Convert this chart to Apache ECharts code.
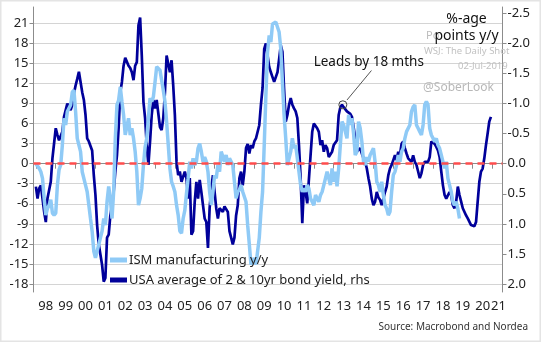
<!DOCTYPE html>
<html><head><meta charset="utf-8">
<script src="https://cdn.jsdelivr.net/npm/echarts@6/dist/echarts.min.js"></script>
<style>html,body{margin:0;padding:0;background:#fff}#c{width:541px;height:342px}</style>
</head><body><div id="c"></div>
<script>
// Monthly data, first point = Jan 1998
const startYear = 1998;
// ISM manufacturing, y/y change (left axis)
const ismValues = [
 0,-0.2,-0.7,-1.2,-2.2,-5.2,-7.7,-6.7,-6.2,-5.4,-7.4,-7.7,
 -7.4,-3.2,-0.9,-0.2,2.8,6.8,5.8,7.8,8.3,8.8,10.7,11,
 7.8,3.8,2.8,1.8,-1.2,-1.2,-3.2,-4.2,-6.2,-8.2,-10.1,-13.1,
 -14.1,-14.1,-12.1,-11.1,-10.1,-8.2,-9.2,-5.7,-3.4,-5.2,-8.2,-4.2,
 3.8,8.8,9.5,11.5,9.3,7.3,4.3,4.3,6.8,4.3,5.3,3.8,
 1.8,-1.2,-6.2,-5.2,-3.7,-0.2,2.5,3.8,6.8,9.8,9.3,10,
 12.2,14.5,14.7,14,12.5,11,9.3,6.3,2.8,-0.7,-2.7,-3.4,
 -4.2,-6.2,-7.7,-10.1,-10.4,-8.2,-7,-4.5,-2.2,0.3,-0.7,0.8,
 -0.2,0.3,2.3,3,1.8,0.3,1,0.3,-1.2,-4.2,-6.2,-4.2,
 -1.7,-2.2,-0.2,-1.2,1.8,1.8,0.3,1.3,-0.2,0.8,1,-0.2,
 -2.7,-5.2,-4.2,-3.9,-3.2,-4.2,-4.2,-5.7,-9.2,-12.1,-15.1,-14.6,
 -14.1,-15.1,-13.1,-11.1,-7.2,-4.2,2.8,10.2,16.7,19.2,18.2,20.9,
 20.7,21.2,21.4,19.7,17.2,12.2,7.3,3.8,-0.2,-0.2,1.8,3.8,
 2.3,2.8,0.8,-1.2,-3.2,-4.2,-3.7,-4.2,-3.2,-3.7,-5.2,-5.7,
 -6.2,-4.7,-5.2,-5.7,-4.7,-4.2,-3.2,-3.2,-1.2,-2.2,-3.2,-0.7,
 -2.7,-1.2,-3.4,-0.7,2.8,6.3,5.8,5.8,3.8,7.3,5.8,6.8,
 4.5,1.3,1.8,6.3,5.3,3.3,0.3,-0.2,1,0.3,1.3,1.8,
 2.3,0.3,-2.7,-3.2,-4.2,-2.7,-4.7,-6.2,-6.7,-7.7,-7.2,-4.2,
 -1.7,-1.2,-0.2,1.3,0.3,1.8,2.3,3.8,4.8,4.8,5.8,7.8,
 8.5,8.8,5.8,5.3,4.8,4.3,5.8,8.8,9.3,8.8,5.3,4.3,
 3.8,3.3,3.8,2.8,2.3,1.3,0.3,-0.7,0.3,-2.2,-3.2,-4.2,
 -5.7,-6.2,-5.7,-6.7,-8.2
];
// USA average of 2 & 10yr bond yield, y/y change in %-points, led by 18 months (right axis, inverted)
const yieldValues = [
 0.38,0.58,0.41,0.36,0.58,0.80,0.97,0.58,0.58,0.30,-0.09,-0.11,
 -0.59,-0.48,-0.39,-0.42,-0.53,-0.78,-0.76,-1.00,-0.98,-0.89,-0.98,-1.17,
 -1.30,-1.41,-1.53,-1.36,-1.19,-1.06,-0.81,-0.42,-0.37,-0.37,-0.22,0.19,
 0.52,1.02,1.34,1.34,1.68,1.96,1.90,1.23,1.18,0.86,0.69,0.47,
 0.13,-0.14,-0.59,-1.19,-1.36,-1.63,-1.76,-1.74,-1.63,-1.59,-1.52,-1.39,
 -1.63,-1.69,-2.30,-2.43,-1.80,-1.03,-0.76,-0.31,0.02,-0.37,-0.81,-1.06,
 -0.92,-1.06,-1.03,-0.61,-0.56,-0.76,-1.19,-1.80,-1.80,-1.52,-1.72,-1.30,
 -0.81,-0.03,0.19,0.13,0.30,0.30,0.13,0.24,0.58,0.24,1.18,1.12,
 0.63,0.30,0.58,0.27,0.47,0.69,0.91,0.97,1.40,0.74,0.41,0.19,
 0.47,0.74,0.91,0.74,0.77,0.80,0.71,0.69,0.80,1.12,1.23,1.34,
 1.23,0.86,0.69,0.24,0.13,0.36,0.13,-0.26,-0.33,-0.17,-0.31,-0.26,
 -0.37,-0.42,-0.39,-0.64,-0.98,-1.26,-1.91,-2.00,-2.02,-1.61,-1.52,-1.44,
 -1.36,-1.44,-1.52,-1.74,-1.97,-1.86,-1.24,-0.70,-0.81,-0.98,-1.09,-0.98,
 -0.92,-0.87,-0.76,-0.31,0.24,0.99,0.36,0.47,0.66,0.63,-0.14,-0.53,
 -0.67,-0.64,-0.59,-0.53,-0.31,-0.39,-0.20,-0.31,-0.26,-0.11,-0.09,-0.20,
 -0.31,-0.33,-0.39,-0.81,-0.94,-0.98,-0.94,-0.94,-0.87,-0.87,-0.83,-0.78,
 -0.61,-0.42,-0.20,-0.20,-0.26,-0.17,-0.09,-0.03,0.08,0.24,0.38,0.58,
 0.69,0.63,0.47,0.56,0.60,0.69,0.67,0.47,0.38,0.19,0.08,0.02,
 -0.06,-0.14,-0.06,-0.20,-0.14,-0.33,-0.37,-0.26,-0.17,-0.09,-0.11,-0.03,
 -0.14,-0.03,0.02,0.13,0.24,0.16,0.02,-0.03,0.00,-0.03,-0.11,-0.37,
 -0.39,-0.33,-0.28,-0.22,-0.11,0.13,0.36,0.52,0.58,0.57,0.47,0.52,
 0.69,0.74,0.63,0.38,0.52,0.63,0.74,0.77,0.86,0.91,0.93,1.02,
 1.03,1.04,0.97,0.63,0.30,0.13,0.08,-0.09,-0.31,-0.50,-0.70,-0.78
];
const xTickYears = [1998,1999,2000,2001,2002,2003,2004,2005,2006,2007,2008,2009,2010,2011,2012,2013,2014,2015,2016,2017,2018,2019,2020,2021];
const xLabelYears = [1998.5,1999.5,2000.5,2001.5,2002.5,2003.5,2004.5,2005.5,2006.5,2007.5,2008.5,2009.5,2010.5,2011.5,2012.5,2013.5,2014.5,2015.5,2016.5,2017.5,2018.5,2019.5,2020.5,2021.3];
const leftTicks = [-18,-15,-12,-9,-6,-3,0,3,6,9,12,15,18,21];
const rightTicks = [-2.5,-2.0,-1.5,-1.0,-0.5,0.0,0.5,1.0,1.5,2.0];
const annotationPoint = [2013.46, -0.98];
const annotationLine = [[2013.67, -1.06], [2014.90, -1.55]];

const names = ['ISM manufacturing y/y', 'USA average of 2 & 10yr bond yield, rhs'];
const FONT = 'Noto Sans';
const toPairs = arr => arr.map((v, i) => [startYear + i / 12, v]);

const chart = echarts.init(document.getElementById('c'), null, {renderer: 'canvas'});
chart.setOption({
  animation: false,
  backgroundColor: '#fff',
  textStyle: {fontFamily: FONT},
  grid: {left: 33.5, right: 38.5, top: 7, bottom: 50, containLabel: false},
  legend: {
    data: names, orient: 'vertical', left: 110, top: 252, padding: 0,
    icon: 'rect', itemWidth: 17, itemHeight: 5, itemGap: 4,
    textStyle: {fontFamily: FONT, fontSize: 13, color: '#222', lineHeight: 16, padding: [0,0,0,-3]}
  },
  xAxis: {
    type: 'value', min: 1997.88, max: 2021.5,
    axisLine: {show: true, lineStyle: {color: '#8c8c8c', width: 1}},
    axisTick: {show: true, customValues: xTickYears, length: 5, lineStyle: {color: '#8c8c8c'}},
    axisLabel: {customValues: xLabelYears, margin: 8, fontSize: 13, color: '#222', fontFamily: FONT,
      formatter: v => String(Math.floor(v) % 100).padStart(2, '0')},
    splitLine: {show: false}
  },
  yAxis: [{
    type: 'value', min: -19.2, max: 23.45, position: 'left',
    axisLine: {show: true, lineStyle: {color: '#8c8c8c', width: 1}},
    axisTick: {show: true, customValues: leftTicks, length: 4, lineStyle: {color: '#8c8c8c'}},
    axisLabel: {customValues: leftTicks, margin: 5, fontSize: 13, color: '#222', fontFamily: FONT},
    splitLine: {show: true, lineStyle: {color: '#d4d4d4', width: 1}}
  }, {
    type: 'value', min: -2.606, max: 2.133, inverse: true, position: 'right',
    axisLine: {show: true, lineStyle: {color: '#8c8c8c', width: 1}},
    axisTick: {show: true, customValues: rightTicks, length: 4, lineStyle: {color: '#8c8c8c'}},
    axisLabel: {customValues: rightTicks, margin: 5, fontSize: 13, color: '#222', fontFamily: FONT,
      formatter: v => v.toFixed(1)},
    splitLine: {show: false}
  }],
  series: [{
    name: names[1], type: 'line', yAxisIndex: 1, data: toPairs(yieldValues),
    showSymbol: false, symbol: 'none', z: 2,
    color: '#00009a',
    lineStyle: {color: '#00009a', width: 2.7},
    markPoint: {
      silent: true, symbol: 'circle', symbolSize: 8,
      itemStyle: {color: 'rgba(0,0,0,0)', borderColor: '#444', borderWidth: 1},
      label: {show: false},
      data: [{coord: annotationPoint}]
    },
    markLine: {
      silent: true, symbol: ['none', 'none'], label: {show: false},
      lineStyle: {color: '#555', width: 1, type: 'solid'},
      data: [[{coord: annotationLine[0]}, {coord: annotationLine[1]}]]
    }
  }, {
    name: names[0], type: 'line', yAxisIndex: 0, data: toPairs(ismValues),
    showSymbol: false, symbol: 'none', z: 3,
    color: '#8fcaf6',
    lineStyle: {color: '#8fcaf6', width: 3.5},
    markLine: {
      silent: true, symbol: ['none', 'none'], label: {show: false},
      lineStyle: {color: '#ff4d4d', width: 2.5, type: [7, 5]},
      data: [{yAxis: 0}]
    }
  }],
  graphic: [
    {type: 'text', x: 426, y: 36, style: {text: 'Po', fontFamily: FONT, fontSize: 11, fill: '#bdbdbd', align: 'left', verticalAlign: 'middle'}, z: 10},
    {type: 'text', x: 466.5, y: 19.5, style: {text: '%-age', fontFamily: FONT, fontSize: 14, fill: '#111', align: 'center', verticalAlign: 'middle'}, z: 11},
    {type: 'text', x: 466.5, y: 36, style: {text: 'points y/y', fontFamily: FONT, fontSize: 14, fill: '#111', align: 'center', verticalAlign: 'middle'}, z: 11},
    {type: 'text', x: 466.7, y: 51.7, style: {text: 'WSJ: The Daily Shot', fontFamily: FONT, fontSize: 9.5, fill: '#c2c2c2', align: 'center', verticalAlign: 'middle'}, z: 10},
    {type: 'text', x: 507.7, y: 66.7, style: {text: '02-Jul-2019', fontFamily: FONT, fontSize: 9.5, fill: '#c2c2c2', align: 'right', verticalAlign: 'middle'}, z: 10},
    {type: 'text', x: 423, y: 87.3, style: {text: '@SoberLook', fontFamily: FONT, fontSize: 12, fill: '#b8b8b8', align: 'left', verticalAlign: 'middle'}, z: 10},
    {type: 'text', x: 368.8, y: 62.5, style: {text: 'Leads by 18 mths', fontFamily: FONT, fontSize: 13.5, fill: '#111', align: 'center', verticalAlign: 'middle'}, z: 11},
    {type: 'text', x: 528, y: 327, style: {text: 'Source: Macrobond and Nordea', fontFamily: FONT, fontSize: 10, fill: '#333', align: 'right', verticalAlign: 'middle'}, z: 11},
    {type: 'rect', shape: {x: 0, y: 0, width: 541, height: 342}, style: {fill: 'none', stroke: '#e4e4e4', lineWidth: 3}, z: 20, silent: true}
  ]
});
</script>
</body></html>
